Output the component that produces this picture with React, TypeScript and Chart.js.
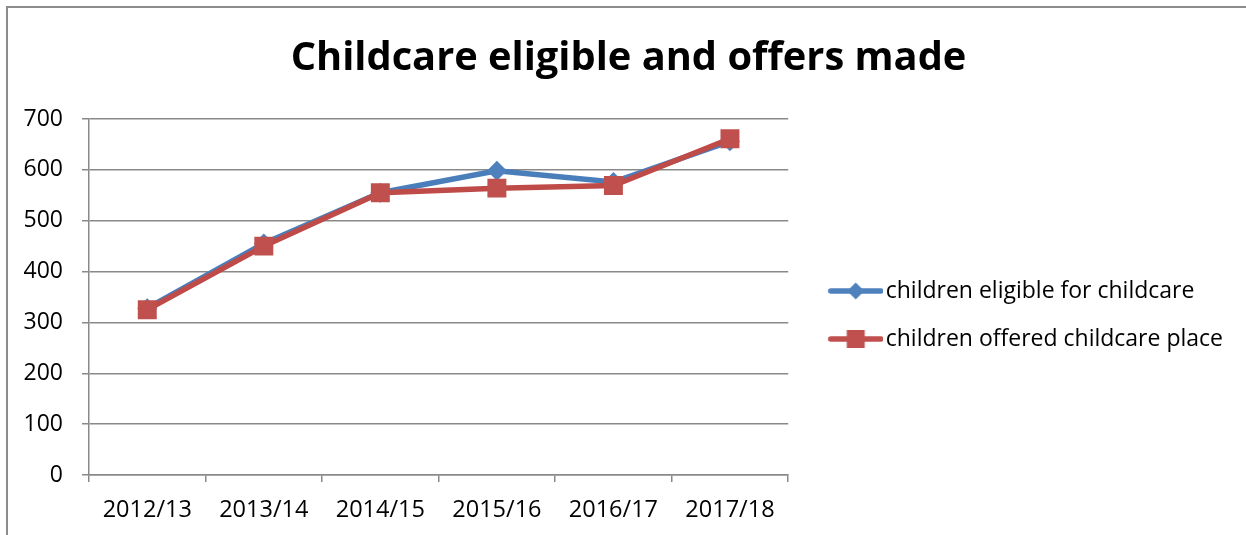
import React, { useEffect, useRef } from "react";
import { Chart, registerables } from "chart.js";

Chart.register(...registerables);

const categories = ["2012/13", "2013/14", "2014/15", "2015/16", "2016/17", "2017/18"];
const eligibleLabel = "children eligible for childcare";
const offeredLabel = "children offered childcare place";
const eligibleValues = [328, 455, 555, 598, 576, 656];
const offeredValues = [325, 450, 555, 564, 569, 661];
const yTicksMin = 0;
const yTicksMax = 700;
const yTickStep = 100;
const titleText = "Childcare eligible and offers made";

const BLUE = "#4A7EBB";
const BLUE_M = "#4F81BD";
const RED = "#BE4B48";
const RED_M = "#C0504D";
const GRID = "#898989";

function makeIcon(color: string, style: "diamond" | "square") {
  const c = document.createElement("canvas");
  c.width = 79;
  c.height = 24;
  const g = c.getContext("2d")!;
  g.strokeStyle = color;
  g.lineWidth = 5.5;
  g.lineCap = "round";
  g.beginPath();
  g.moveTo(26.5, 12);
  g.lineTo(76.5, 12);
  g.stroke();
  g.fillStyle = color;
  const cx = 51.5;
  if (style === "diamond") {
    g.beginPath();
    g.moveTo(cx, 3.5);
    g.lineTo(cx + 8.5, 12);
    g.lineTo(cx, 20.5);
    g.lineTo(cx - 8.5, 12);
    g.closePath();
    g.fill();
  } else {
    g.fillRect(cx - 9, 3, 18, 18);
  }
  return c;
}

const framePlugin = {
  id: "frame",
  beforeLayout(chart: any) {
    const lg = chart.legend;
    if (lg && !lg.__wide) {
      const orig = lg.update.bind(lg);
      lg.update = (mw: number, mh: number, m: any) => orig(Math.max(mw, 520), mh, m);
      lg.__wide = true;
    }
  },
  beforeDraw(chart: any) {
    const { ctx, width, height } = chart;
    ctx.save();
    ctx.fillStyle = "#ffffff";
    ctx.fillRect(0, 0, width, height);
    ctx.strokeStyle = "#8c8c8c";
    ctx.lineWidth = 2;
    ctx.beginPath();
    ctx.moveTo(7, height);
    ctx.lineTo(7, 7);
    ctx.lineTo(width, 7);
    ctx.stroke();
    ctx.restore();
  },
};

export default function App() {
  const ref = useRef<HTMLCanvasElement | null>(null);

  useEffect(() => {
    if (!ref.current) return;
    Chart.defaults.font.family = "'Open Sans', sans-serif";
    const icons = [makeIcon(BLUE_M, "diamond"), makeIcon(RED_M, "square")];
    const chart = new Chart(ref.current, {
      type: "line",
      data: {
        labels: categories,
        datasets: [
          {
            label: eligibleLabel,
            data: eligibleValues,
            borderColor: BLUE,
            backgroundColor: BLUE_M,
            borderWidth: 5.5,
            pointStyle: "rectRot",
            pointRadius: 10,
            pointBackgroundColor: BLUE_M,
            pointBorderColor: BLUE_M,
            pointBorderWidth: 0,
            tension: 0,
            order: 2,
          },
          {
            label: offeredLabel,
            data: offeredValues,
            borderColor: RED,
            backgroundColor: RED_M,
            borderWidth: 5.5,
            pointStyle: "rect",
            pointRadius: 13.4,
            pointBackgroundColor: RED_M,
            pointBorderColor: RED_M,
            pointBorderWidth: 0,
            tension: 0,
            order: 1,
          },
        ],
      },
      options: {
        responsive: false,
        animation: false,
        layout: { padding: { left: 24, right: 13, top: 0, bottom: 0 } },
        plugins: {
          tooltip: { enabled: false },
          title: {
            display: true,
            text: titleText,
            color: "#000",
            font: { size: 39.8, weight: "bold" },
            padding: { top: 35, bottom: 36.2 },
          },
          legend: {
            display: true,
            position: "right",
            title: { display: true, text: " ", font: { size: 10 }, padding: { top: 83, bottom: 0 } },
            labels: {
              usePointStyle: true,
              pointStyleWidth: 61,
              padding: 25,
              color: "#000",
              font: { size: 23 },
              sort: (a: any, b: any) => a.datasetIndex - b.datasetIndex,
              generateLabels: (ch: any) => {
                const items = (Chart.defaults.plugins.legend.labels as any).generateLabels(ch);
                items.forEach((it: any) => {
                  it.pointStyle = icons[it.datasetIndex];
                });
                return items;
              },
            },
          },
        },
        scales: {
          x: {
            offset: true,
            grid: {
              offset: true,
              drawOnChartArea: false,
              drawTicks: true,
              tickLength: 7,
              color: GRID,
              lineWidth: 1.5,
            },
            border: { display: true, color: GRID, width: 1.5 },
            ticks: { color: "#000", font: { size: 23.5 }, padding: 14, maxRotation: 0, autoSkip: false },
            afterFit: (s: any) => {
              s.height = 60;
            },
          },
          y: {
            min: yTicksMin,
            max: yTicksMax,
            ticks: { stepSize: yTickStep, color: "#000", font: { size: 23 }, padding: 19 },
            grid: { color: GRID, lineWidth: 1.5, tickLength: 7, drawTicks: true },
            border: { display: true, color: GRID, width: 1.5 },
            afterFit: (s: any) => {
              s.width = 65;
            },
          },
        },
      },
      plugins: [framePlugin],
    });
    return () => chart.destroy();
  }, []);

  return (
    <div style={{ position: "fixed", left: 0, top: 0, width: 1246, height: 535, background: "#fff" }}>
      <canvas ref={ref} width={1246} height={535} style={{ display: "block" }} />
    </div>
  );
}
